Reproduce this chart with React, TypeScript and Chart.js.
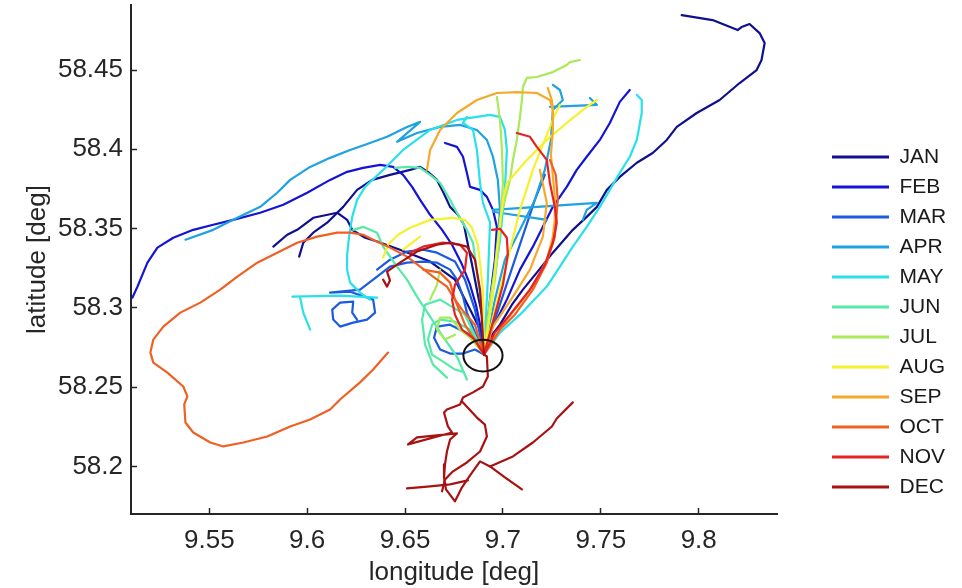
import React, { useEffect, useRef } from 'react';
import { Chart, registerables } from 'chart.js';

Chart.register(...registerables);

const FONT = "'Liberation Sans', Arial, Helvetica, sans-serif";
Chart.defaults.font.family = FONT;

// ---------- axes ----------
const X_MIN = 9.51;
const X_MAX = 9.84;
const Y_MIN = 58.17;
const Y_MAX = 58.491;
const X_TICKS = [9.55, 9.6, 9.65, 9.7, 9.75, 9.8];
const Y_TICKS = [58.2, 58.25, 58.3, 58.35, 58.4, 58.45];

// ---------- legend ----------
const MONTHS = ['JAN', 'FEB', 'MAR', 'APR', 'MAY', 'JUN', 'JUL', 'AUG', 'SEP', 'OCT', 'NOV', 'DEC'];
const MONTH_COLORS = [
  '#10108f', '#1414d6', '#1c5ae0', '#1ea2e2', '#2ae0ea', '#55eaa8',
  '#a8ea58', '#f5f030', '#f5a82a', '#f06022', '#e62222', '#a81212',
];

// ---------- station circle ----------
const STATION_LON = 9.6898;
const STATION_LAT = 58.2699;
const STATION_RADIUS = 0.01;

// ---------- trajectories [lon, lat] ----------
const JAN_TRACKS = [
  [[9.6903,58.2705],[9.6913,58.2781],[9.6985,58.2894],[9.7046,58.3020],[9.7102,58.3115],[9.7173,58.3222],[9.7255,58.3348],[9.7357,58.3492],[9.7428,58.3574],[9.7480,58.3637],[9.7531,58.3744],[9.7597,58.3826],[9.7684,58.3915],[9.7765,58.3977],[9.7837,58.4059],[9.7888,58.4141],[9.7990,58.4229],[9.8107,58.4311],[9.8209,58.4418],[9.8296,58.4500],[9.8321,58.4563],[9.8337,58.4670],[9.8311,58.4733],[9.8260,58.4790],[9.8219,58.4771],[9.8199,58.4752],[9.8071,58.4815],[9.7913,58.4846]],
  [[9.5827,58.3386],[9.5898,58.3461],[9.5949,58.3492],[9.6031,58.3568],[9.6153,58.3600],[9.6204,58.3555],[9.6230,58.3492],[9.6296,58.3442],[9.6362,58.3417],[9.6474,58.3367],[9.6628,58.3292],[9.6755,58.3178],[9.6832,58.2989],[9.6883,58.2863],[9.6903,58.2705]],
  [[9.5959,58.3323],[9.5980,58.3411],[9.6031,58.3474],[9.6102,58.3537],[9.6184,58.3637],[9.6255,58.3744],[9.6332,58.3807],[9.6423,58.3839],[9.6526,58.3870],[9.6577,58.3889],[9.6617,58.3858],[9.6663,58.3807],[9.6694,58.3732],[9.6730,58.3637],[9.6770,58.3587],[9.6801,58.3524],[9.6816,58.3430],[9.6842,58.3273],[9.6872,58.3083],[9.6898,58.2926],[9.6903,58.2705]],
];
const FEB_TRACKS = [
  [[9.5107,58.3064],[9.5133,58.3134],[9.5184,58.3285],[9.5235,58.3380],[9.5316,58.3442],[9.5418,58.3492],[9.5520,58.3524],[9.5622,58.3555],[9.5760,58.3600],[9.5878,58.3650],[9.6000,58.3726],[9.6117,58.3807],[9.6204,58.3858],[9.6286,58.3883],[9.6373,58.3902],[9.6439,58.3889],[9.6490,58.3839],[9.6536,58.3763],[9.6577,58.3681],[9.6628,58.3587],[9.6689,58.3492],[9.6740,58.3398],[9.6791,58.3273],[9.6832,58.3146],[9.6862,58.3020],[9.6883,58.2894],[9.6903,58.2705]],
  [[9.6903,58.2705],[9.6934,58.2863],[9.6969,58.2926],[9.7020,58.3052],[9.7087,58.3241],[9.7153,58.3386],[9.7204,58.3511],[9.7255,58.3637],[9.7326,58.3763],[9.7377,58.3870],[9.7428,58.3953],[9.7495,58.4059],[9.7546,58.4166],[9.7597,58.4299],[9.7648,58.4374]],
  [[9.6704,58.4040],[9.6765,58.4015],[9.6796,58.3953],[9.6816,58.3851],[9.6832,58.3763],[9.6883,58.3744],[9.6918,58.3700],[9.6949,58.3618],[9.6969,58.3511],[9.6959,58.3304],[9.6934,58.3052],[9.6903,58.2705]],
];
const MAR_TRACKS = [
  [[9.6255,58.2926],[9.6230,58.2970],[9.6235,58.3039],[9.6168,58.3033],[9.6128,58.2989],[9.6133,58.2926],[9.6168,58.2882],[9.6235,58.2907],[9.6306,58.2926],[9.6347,58.2970],[9.6337,58.3052],[9.6219,58.3102],[9.6117,58.3096],[9.6270,58.3115],[9.6357,58.3197],[9.6423,58.3260],[9.6510,58.3285],[9.6592,58.3292],[9.6663,58.3285],[9.6730,58.3241],[9.6765,58.3178],[9.6796,58.3071],[9.6816,58.2970],[9.6903,58.2705]],
  [[9.6357,58.3241],[9.6423,58.3304],[9.6510,58.3355],[9.6592,58.3367],[9.6663,58.3348],[9.6755,58.3292],[9.6806,58.3178],[9.6857,58.2989],[9.6903,58.2705]],
  [[9.6903,58.2705],[9.6832,58.2831],[9.6730,58.2894],[9.6663,58.2882],[9.6648,58.2812],[9.6679,58.2737],[9.6730,58.2712],[9.6796,58.2712],[9.6857,58.2737],[9.6903,58.2705]],
  [[9.6903,58.2705],[9.6959,58.2926],[9.7010,58.3115],[9.7061,58.3304],[9.7112,58.3492],[9.7163,58.3681],[9.7214,58.3839]],
];
const APR_TRACKS = [
  [[9.5378,58.3430],[9.5520,58.3492],[9.5622,58.3555],[9.5760,58.3637],[9.5847,58.3726],[9.5913,58.3807],[9.6015,58.3889],[9.6117,58.3946],[9.6219,58.3996],[9.6321,58.4040],[9.6408,58.4079],[9.6510,58.4141],[9.6577,58.4173],[9.6459,58.4047],[9.6561,58.4103],[9.6679,58.4141],[9.6781,58.4154],[9.6867,58.4122],[9.6918,58.4059],[9.6949,58.3953],[9.6974,58.3807],[9.6985,58.3618],[9.6969,58.3367],[9.6944,58.3115],[9.6903,58.2705]],
  [[9.6903,58.2705],[9.6959,58.3052],[9.7010,58.3304],[9.7087,58.3492],[9.7163,58.3681],[9.7214,58.3870],[9.7245,58.4059],[9.7255,58.4248],[9.7306,58.4311],[9.7291,58.4374],[9.7255,58.4406]],
  [[9.7240,58.4268],[9.7480,58.4280],[9.7444,58.4324]],
  [[9.6949,58.3618],[9.7480,58.3662],[9.7428,58.3618],[9.7408,58.3555]],
  [[9.6949,58.3606],[9.7224,58.3555]],
];
const MAY_TRACKS = [
  [[9.6321,58.3052],[9.6270,58.3096],[9.6219,58.3159],[9.6204,58.3241],[9.6204,58.3336],[9.6214,58.3449],[9.6230,58.3574],[9.6255,58.3681],[9.6296,58.3763],[9.6388,58.3870],[9.6490,58.3996],[9.6628,58.4122],[9.6765,58.4185],[9.6867,58.4204],[9.6934,58.4217],[9.6985,58.4204],[9.7010,58.4122],[9.7020,58.3996],[9.7010,58.3744],[9.6985,58.3430],[9.6949,58.3115],[9.6903,58.2705]],
  [[9.5924,58.3071],[9.6168,58.3077],[9.6357,58.3064]],
  [[9.5964,58.3064],[9.5980,58.2970],[9.6015,58.2863]],
  [[9.7684,58.4343],[9.7709,58.4311],[9.7709,58.4229],[9.7684,58.4059],[9.7648,58.3953],[9.7597,58.3851],[9.7546,58.3744],[9.7495,58.3637],[9.7428,58.3511],[9.7357,58.3386],[9.7291,58.3260],[9.7224,58.3134],[9.7087,58.2957],[9.6985,58.2844],[9.6903,58.2705]],
  [[9.6816,58.4204],[9.6796,58.4166],[9.6847,58.4122],[9.6867,58.3996],[9.6883,58.3788],[9.6898,58.3662],[9.6934,58.3537],[9.6923,58.3178],[9.6903,58.2705]],
];
const JUN_TRACKS = [
  [[9.6235,58.3492],[9.6286,58.3511],[9.6357,58.3474],[9.6388,58.3386],[9.6423,58.3323],[9.6459,58.3260],[9.6510,58.3178],[9.6561,58.3071],[9.6628,58.2945],[9.6694,58.2818],[9.6765,58.2693],[9.6816,58.2548]],
  [[9.6903,58.2705],[9.6832,58.2863],[9.6755,58.2913],[9.6679,58.2926],[9.6638,58.2894],[9.6617,58.2800],[9.6638,58.2705],[9.6694,58.2661],[9.6755,58.2611],[9.6791,58.2598]],
  [[9.6449,58.3883],[9.6510,58.3889],[9.6577,58.3883],[9.6628,58.3839],[9.6679,58.3788],[9.6730,58.3681],[9.6765,58.3600],[9.6816,58.3492],[9.6847,58.3411],[9.6872,58.3178],[9.6898,58.2957],[9.6903,58.2705]],
  [[9.6903,58.2705],[9.6806,58.2957],[9.6679,58.3052],[9.6602,58.3020],[9.6587,58.2926],[9.6602,58.2768],[9.6643,58.2642],[9.6714,58.2560]],
];
const JUL_TRACKS = [
  [[9.6903,58.2705],[9.6934,58.3052],[9.6969,58.3304],[9.6985,58.3555],[9.7010,58.3681],[9.7036,58.3807],[9.7051,58.3933],[9.7071,58.4059],[9.7087,58.4204],[9.7097,58.4311],[9.7102,58.4393],[9.7122,58.4450],[9.7173,58.4456],[9.7255,58.4487],[9.7306,58.4519],[9.7326,58.4532],[9.7342,58.4550],[9.7393,58.4563]],
  [[9.6903,58.2705],[9.6959,58.3178],[9.6985,58.3492],[9.7000,58.3788],[9.6995,58.3996],[9.6985,58.4185],[9.6969,58.4330]],
  [[9.6903,58.2705],[9.6832,58.2812],[9.6781,58.2863],[9.6730,58.2939],[9.6679,58.2939],[9.6663,58.2863],[9.6704,58.2800],[9.6755,58.2831]],
  [[9.6628,58.3052],[9.6663,58.3146],[9.6679,58.3241]],
];
const AUG_TRACKS = [
  [[9.6388,58.3317],[9.6413,58.3398],[9.6464,58.3461],[9.6526,58.3505],[9.6628,58.3555],[9.6745,58.3568],[9.6806,58.3555],[9.6842,58.3505],[9.6872,58.3398],[9.6898,58.3115],[9.6903,58.2705]],
  [[9.6577,58.3449],[9.6490,58.3367]],
  [[9.6903,58.2705],[9.6944,58.3052],[9.6969,58.3367],[9.7000,58.3681],[9.7020,58.3788],[9.7122,58.3933],[9.7224,58.4059],[9.7326,58.4166],[9.7428,58.4268],[9.7480,58.4311]],
  [[9.6903,58.2705],[9.6985,58.3115],[9.7036,58.3367],[9.7087,58.3618],[9.7153,58.3870],[9.7214,58.4059],[9.7265,58.4217],[9.7291,58.4280]],
];
const SEP_TRACKS = [
  [[9.6612,58.3870],[9.6628,58.3996],[9.6679,58.4122],[9.6765,58.4229],[9.6867,58.4311],[9.6969,58.4355],[9.7071,58.4361],[9.7173,58.4355],[9.7240,58.4311],[9.7255,58.4248],[9.7255,58.4122],[9.7245,58.3965],[9.7265,58.3700],[9.7265,58.3555],[9.7255,58.3449],[9.7224,58.3304],[9.7173,58.3178],[9.7102,58.3052],[9.7020,58.2926],[9.6969,58.2831],[9.6903,58.2705]],
  [[9.7229,58.4387],[9.7250,58.4311],[9.7255,58.4248]],
  [[9.6903,58.2705],[9.6949,58.2882],[9.7051,58.3071],[9.7138,58.3241],[9.7204,58.3449],[9.7224,58.3662],[9.7189,58.3870]],
];
const OCT_TRACKS = [
  [[9.6903,58.2705],[9.6857,58.2894],[9.6791,58.2989],[9.6745,58.3071],[9.6714,58.3134],[9.6643,58.3197],[9.6577,58.3260],[9.6510,58.3323],[9.6423,58.3380],[9.6357,58.3417],[9.6286,58.3461],[9.6219,58.3474],[9.6153,58.3474],[9.6051,58.3449],[9.5949,58.3411],[9.5847,58.3348],[9.5745,58.3285],[9.5643,58.3197],[9.5556,58.3115],[9.5454,58.3033],[9.5352,58.2970],[9.5265,58.2882],[9.5214,58.2800],[9.5199,58.2718],[9.5214,58.2655],[9.5286,58.2592],[9.5367,58.2504],[9.5388,58.2442],[9.5372,58.2391],[9.5378,58.2277],[9.5418,58.2214],[9.5505,58.2151],[9.5571,58.2126],[9.5674,58.2151],[9.5796,58.2189],[9.5913,58.2252],[9.6015,58.2296],[9.6117,58.2359],[9.6168,58.2422],[9.6270,58.2530],[9.6337,58.2611],[9.6413,58.2718]],
  [[9.6903,58.2705],[9.6985,58.2863],[9.7061,58.2957],[9.7153,58.3115],[9.7224,58.3285],[9.7265,58.3449],[9.7280,58.3681],[9.7270,58.3839],[9.7240,58.3933]],
  [[9.6592,58.3241],[9.6679,58.3222],[9.6730,58.3159],[9.6755,58.3052],[9.6806,58.2894],[9.6903,58.2705]],
];
const NOV_TRACKS = [
  [[9.7071,58.4103],[9.7138,58.4079],[9.7173,58.4015],[9.7224,58.3933],[9.7240,58.3788],[9.7265,58.3637],[9.7275,58.3537],[9.7255,58.3411],[9.7214,58.3273],[9.7138,58.3115],[9.7036,58.2957],[9.6959,58.2844],[9.6903,58.2705]],
  [[9.6526,58.3348],[9.6592,58.3386],[9.6694,58.3411],[9.6781,58.3398],[9.6816,58.3348],[9.6806,58.3241],[9.6755,58.3146],[9.6740,58.3052],[9.6755,58.2957],[9.6791,58.2863],[9.6857,58.2800],[9.6903,58.2705]],
  [[9.6903,58.2705],[9.6959,58.2957],[9.7000,58.3146],[9.7025,58.3336],[9.7020,58.3442],[9.6985,58.3499],[9.6944,58.3492]],
];
const DEC_TRACKS = [
  [[9.6903,58.2705],[9.6918,58.2693],[9.6923,58.2567],[9.6898,58.2504],[9.6847,58.2467],[9.6796,58.2435],[9.6781,58.2391],[9.6714,58.2359],[9.6699,58.2340],[9.6719,58.2252],[9.6740,58.2214],[9.6515,58.2139],[9.6561,58.2183],[9.6765,58.2208],[9.6730,58.2170],[9.6714,58.2094],[9.6704,58.2013],[9.6699,58.1931],[9.6709,58.1855],[9.6755,58.1780],[9.6791,58.1868],[9.6832,58.1943],[9.6883,58.2032],[9.6934,58.2000],[9.7051,58.2063],[9.7153,58.2151],[9.7250,58.2252],[9.7275,58.2302],[9.7357,58.2404]],
  [[9.6791,58.2410],[9.6867,58.2308],[9.6908,58.2264],[9.6918,58.2189],[9.6883,58.2094],[9.6816,58.2025],[9.6745,58.1969],[9.6704,58.1918],[9.6689,58.1843]],
  [[9.6510,58.1862],[9.6628,58.1874],[9.6730,58.1887],[9.6821,58.1912]],
  [[9.6934,58.2000],[9.7010,58.1931],[9.7097,58.1855]],
  [[9.6388,58.3178],[9.6408,58.3134],[9.6423,58.3172],[9.6408,58.3228],[9.6474,58.3285],[9.6561,58.3355],[9.6663,58.3398],[9.6730,58.3411],[9.6816,58.3386],[9.6857,58.3304],[9.6883,58.3115],[9.6903,58.2705]],
];

const TRACKS_BY_MONTH = [
  JAN_TRACKS, FEB_TRACKS, MAR_TRACKS, APR_TRACKS, MAY_TRACKS, JUN_TRACKS,
  JUL_TRACKS, AUG_TRACKS, SEP_TRACKS, OCT_TRACKS, NOV_TRACKS, DEC_TRACKS,
];

const INK = '#262626';

const stationCircle = {
  id: 'stationCircle',
  afterDatasetsDraw(chart: any) {
    const { ctx, scales } = chart;
    const xs = scales.x;
    const ys = scales.y;
    const cx = xs.getPixelForValue(STATION_LON);
    const cy = ys.getPixelForValue(STATION_LAT);
    const rx = Math.abs(xs.getPixelForValue(STATION_LON + STATION_RADIUS) - cx);
    const ry = Math.abs(ys.getPixelForValue(STATION_LAT + STATION_RADIUS) - cy);
    ctx.save();
    ctx.beginPath();
    ctx.ellipse(cx, cy, rx, ry, 0, 0, Math.PI * 2);
    ctx.strokeStyle = '#111111';
    ctx.lineWidth = 2;
    ctx.stroke();
    ctx.restore();
  },
};

const legendPlacer = {
  id: 'legendPlacer',
  afterLayout(chart: any) {
    const lg = chart.legend;
    if (!lg) return;
    lg.left = 823;
    lg.right = 962;
    lg.width = 139;
    lg.top = 137.5;
    lg.bottom = 588;
    lg.height = 450.5;
  },
};

export default function App() {
  const ref = useRef<HTMLCanvasElement | null>(null);

  useEffect(() => {
    document.body.style.margin = '0';
    const canvas = ref.current;
    if (!canvas) return;

    const datasets: any[] = [];
    const firstIndex: number[] = [];
    TRACKS_BY_MONTH.forEach((tracks, m) => {
      firstIndex[m] = datasets.length;
      tracks.forEach((track) => {
        datasets.push({
          label: MONTHS[m],
          data: track.map(([lon, lat]) => ({ x: lon, y: lat })),
          borderColor: MONTH_COLORS[m],
          backgroundColor: MONTH_COLORS[m],
          borderWidth: 2.2,
          borderJoinStyle: 'round',
          borderCapStyle: 'round',
          pointRadius: 0,
          pointHoverRadius: 0,
          showLine: true,
          tension: 0,
          fill: false,
          order: 11 - m,
        });
      });
    });

    const chart = new Chart(canvas, {
      type: 'scatter',
      data: { datasets },
      options: {
        animation: false,
        responsive: false,
        devicePixelRatio: 1,
        events: [],
        layout: { padding: { top: 5, right: 185, bottom: 0, left: 0 } },
        scales: {
          x: {
            type: 'linear',
            min: X_MIN,
            max: X_MAX,
            afterBuildTicks: (s: any) => { s.ticks = X_TICKS.map((v) => ({ value: v })); },
            afterFit: (s: any) => {
              s.height = 74;
              s.paddingLeft = 0;
              s.paddingRight = 0;
            },
            ticks: {
              font: { size: 26, family: FONT },
              color: INK,
              padding: 17,
              maxRotation: 0,
              autoSkip: false,
              callback: (v: any) => String(v),
            },
            grid: { drawOnChartArea: false, drawTicks: true, tickLength: -6, tickWidth: 1.5, tickColor: INK },
            border: { display: true, color: INK, width: 2 },
            title: {
              display: true,
              text: 'longitude [deg]',
              font: { size: 26, family: FONT },
              color: INK,
              padding: { top: 0, bottom: 0 },
            },
          },
          y: {
            type: 'linear',
            min: Y_MIN,
            max: Y_MAX,
            afterBuildTicks: (s: any) => { s.ticks = Y_TICKS.map((v) => ({ value: v })); },
            afterFit: (s: any) => {
              s.width = 131;
              s.paddingTop = 0;
              s.paddingBottom = 0;
            },
            ticks: {
              font: { size: 26, family: FONT },
              color: INK,
              padding: 14,
              autoSkip: false,
              callback: (v: any) => String(v),
            },
            grid: { drawOnChartArea: false, drawTicks: true, tickLength: -6, tickWidth: 1.5, tickColor: INK },
            border: { display: true, color: INK, width: 2 },
            title: {
              display: true,
              text: 'latitude [deg]',
              font: { size: 26, family: FONT },
              color: INK,
              padding: { top: 22, bottom: 0 },
            },
          },
        },
        plugins: {
          tooltip: { enabled: false },
          legend: {
            display: true,
            position: 'chartArea',
            align: 'start',
            labels: {
              boxWidth: 57,
              boxHeight: 0,
              padding: 9,
              font: { size: 21, family: FONT },
              color: '#1a1a1a',
              generateLabels: () =>
                MONTHS.map((m, i) => ({
                  text: m,
                  fillStyle: MONTH_COLORS[i],
                  strokeStyle: MONTH_COLORS[i],
                  lineWidth: 3,
                  lineCap: 'butt',
                  lineJoin: 'bevel',
                  hidden: false,
                  datasetIndex: firstIndex[i],
                  fontColor: '#1a1a1a',
                })),
            },
          },
        },
      } as any,
      plugins: [stationCircle, legendPlacer],
    });

    return () => chart.destroy();
  }, []);

  return (
    <canvas
      ref={ref}
      width={962}
      height={588}
      style={{ display: 'block', position: 'absolute', left: 0, top: 0, width: 962, height: 588 }}
    />
  );
}
